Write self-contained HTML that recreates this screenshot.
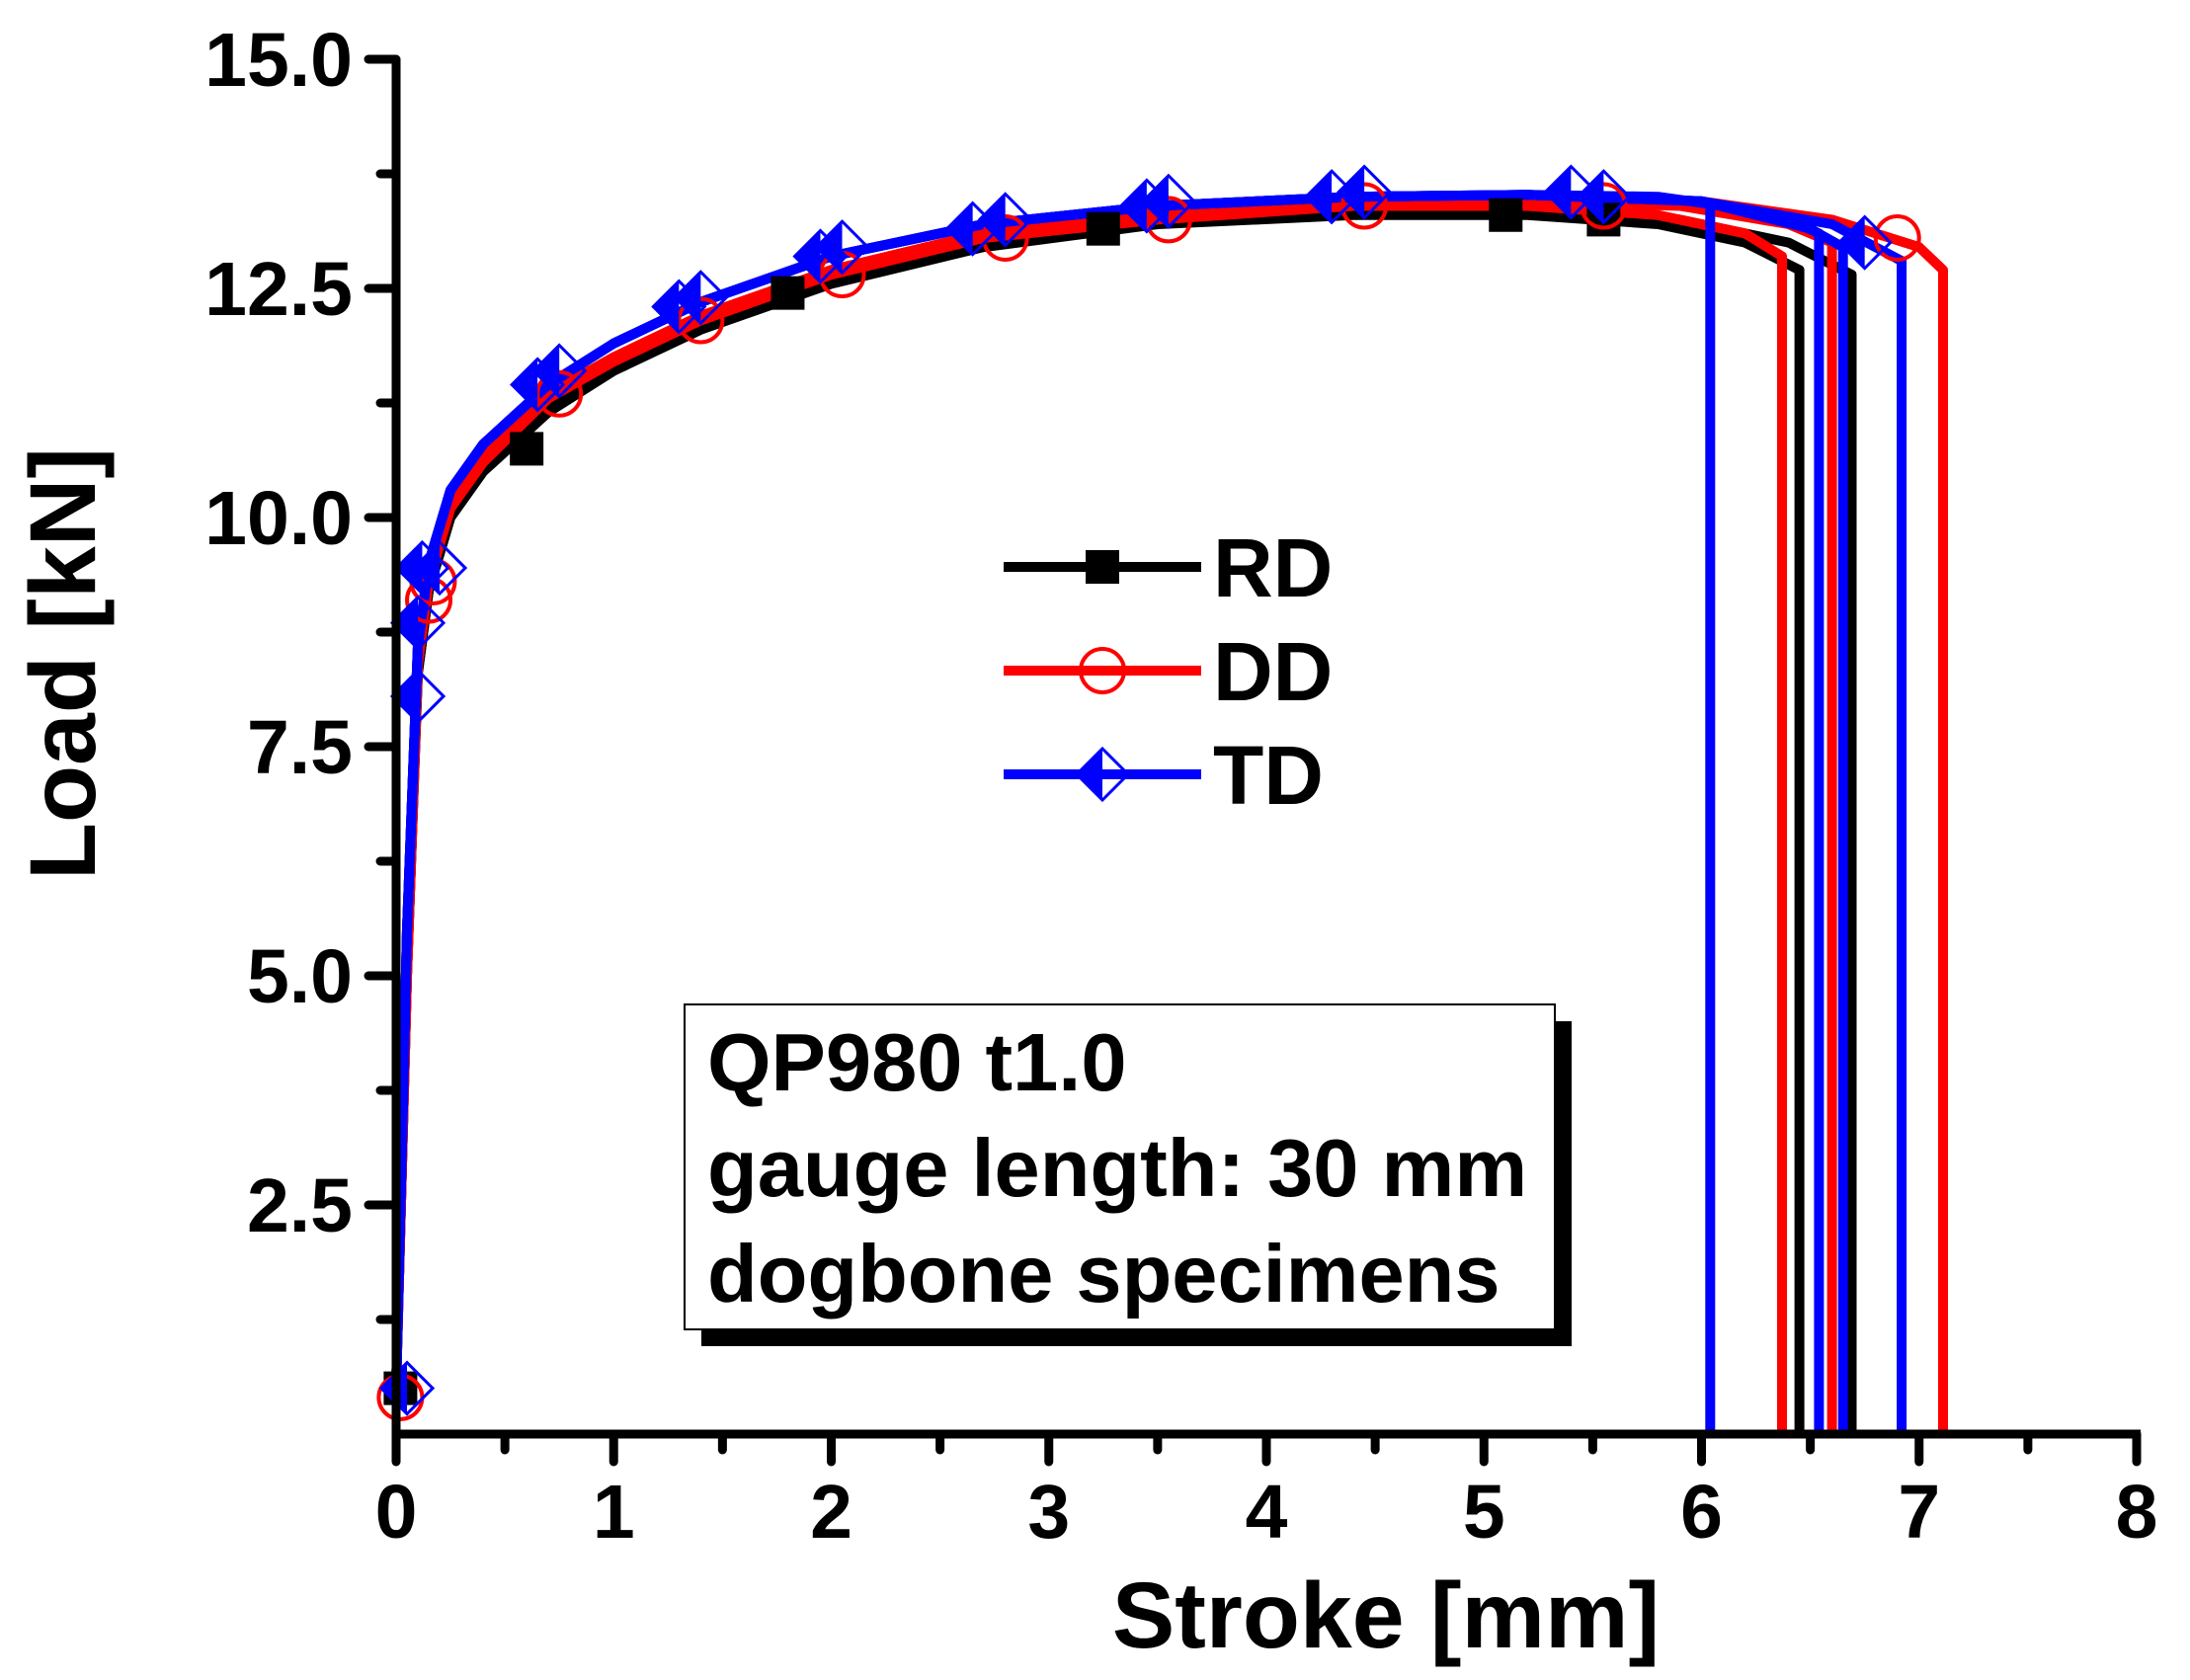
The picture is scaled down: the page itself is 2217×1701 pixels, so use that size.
<!DOCTYPE html>
<html><head><meta charset="utf-8"><style>
html,body{margin:0;padding:0;background:#fff;width:2217px;height:1701px;overflow:hidden}
svg{display:block}
text{font-family:"Liberation Sans",Arial,sans-serif;font-weight:bold}
</style></head><body>
<svg id="chart" width="2217" height="1701" viewBox="0 0 2217 1701" xmlns="http://www.w3.org/2000/svg">
<g id="plot"></g>
<g id="axes"></g>
<g id="legend"></g>
<g>
<rect x="710" y="1034" width="881" height="329" fill="#000"/>
<rect x="693" y="1017" width="881" height="329" fill="#fff" stroke="#000" stroke-width="2"/>
<text x="716" y="1104" font-size="83">QP980 t1.0</text>
<text x="716" y="1211" font-size="83">gauge length: 30 mm</text>
<text x="716" y="1318" font-size="83">dogbone specimens</text>
</g>
<text x="1403" y="1668" font-size="95" text-anchor="middle">Stroke [mm]</text>
<text transform="translate(96,672) rotate(-90)" font-size="95" text-anchor="middle">Load [kN]</text>
</svg>
<script>
const xTicks=[0,1,2,3,4,5,6,7,8];
const yTicks=[2.5,5.0,7.5,10.0,12.5,15.0];
const yTickLabels=["2.5","5.0","7.5","10.0","12.5","15.0"];
// specimen curves (stroke mm, load kN)
const rd1X=[0,0.05,0.1,0.15,0.25,0.4,0.7,1,1.4,2,2.7,3.5,4.4,5.2,5.8,6.2,6.45];
const rd1Y=[0.5,5,8.3,9.2,10.0,10.5,11.15,11.6,12.05,12.55,12.95,13.2,13.3,13.3,13.2,13.0,12.7];
const rd2X=[0,0.05,0.1,0.15,0.25,0.4,0.7,1,1.4,2,2.7,3.5,4.4,5.2,5.9,6.4,6.69];
const rd2Y=[0.5,5,8.3,9.2,10.05,10.55,11.2,11.65,12.1,12.6,13.0,13.25,13.35,13.35,13.25,13.0,12.65];
const dd1X=[0,0.05,0.1,0.15,0.25,0.4,0.7,1,1.4,2,2.7,3.5,4.4,5.2,5.8,6.2,6.37];
const dd1Y=[0.5,5,8.4,9.3,10.1,10.6,11.3,11.7,12.15,12.65,13.05,13.25,13.4,13.4,13.3,13.1,12.85];
const dd2X=[0,0.05,0.1,0.15,0.25,0.4,0.7,1,1.4,2,2.7,3.5,4.4,5.2,5.9,6.4,6.6];
const dd2Y=[0.5,5,8.4,9.3,10.15,10.65,11.35,11.75,12.2,12.7,13.1,13.3,13.42,13.45,13.4,13.2,13.0];
const dd3X=[0,0.05,0.1,0.15,0.25,0.4,0.7,1,1.4,2,2.7,3.5,4.4,5.2,6,6.6,7.0,7.11];
const dd3Y=[0.5,5,8.4,9.3,10.15,10.65,11.35,11.75,12.2,12.7,13.1,13.3,13.45,13.5,13.45,13.25,12.95,12.7];
const td1X=[0,0.05,0.1,0.15,0.25,0.4,0.7,1,1.4,2,2.7,3.5,4.4,5.2,5.8,6.04];
const td1Y=[0.5,5.5,8.6,9.5,10.3,10.8,11.45,11.9,12.35,12.85,13.2,13.4,13.5,13.52,13.5,13.42];
const td2X=[0,0.05,0.1,0.15,0.25,0.4,0.7,1,1.4,2,2.7,3.5,4.4,5.2,6,6.4,6.54];
const td2Y=[0.5,5.5,8.6,9.5,10.3,10.8,11.45,11.9,12.35,12.85,13.2,13.4,13.5,13.52,13.45,13.25,13.1];
const td3X=[0,0.05,0.1,0.15,0.25,0.4,0.7,1,1.4,2,2.7,3.5,4.4,5.2,6,6.5,6.65];
const td3Y=[0.5,5.5,8.6,9.5,10.3,10.8,11.45,11.9,12.35,12.85,13.2,13.4,13.5,13.52,13.45,13.15,12.95];
const td4X=[0,0.05,0.1,0.15,0.25,0.4,0.7,1,1.4,2,2.7,3.5,4.4,5.2,6,6.6,6.92];
const td4Y=[0.5,5.5,8.6,9.5,10.3,10.8,11.45,11.9,12.35,12.85,13.2,13.4,13.5,13.52,13.45,13.2,12.8];
// markers
const rdMarkX=[0.02,0.6,1.8,3.25,5.1,5.55];
const rdMarkY=[0.5,10.75,12.45,13.15,13.3,13.25];
const ddMarkX=[0.02,0.15,0.17,0.75,1.4,2.05,2.8,3.55,4.45,5.55,6.9];
const ddMarkY=[0.4,9.1,9.3,11.35,12.15,12.65,13.05,13.25,13.4,13.4,13.05];
const tdMarkX=[0.05,0.1,0.1,0.12,0.2,0.65,0.75,1.3,1.4,1.95,2.05,2.65,2.8,3.45,3.55,4.3,4.45,5.4,5.55,6.75];
const tdMarkY=[0.5,8.05,8.85,9.45,9.45,11.45,11.6,12.3,12.4,12.85,12.95,13.15,13.25,13.4,13.45,13.5,13.55,13.55,13.5,13.0];

const X0=401,X1=2163,Y0=1452,Y1=60;
const sx=v=>X0+(X1-X0)*v/8;
const sy=v=>Y0-(Y0-Y1)*v/15;
const NS="http://www.w3.org/2000/svg";
const plot=document.getElementById('plot'),axes=document.getElementById('axes'),legend=document.getElementById('legend');
function mk(tag,attrs,parent){const e=document.createElementNS(NS,tag);for(const k in attrs)e.setAttribute(k,attrs[k]);parent.appendChild(e);return e;}

function curve(xs,ys,color,name){
  let d='';xs.forEach((x,i)=>{d+=(i?'L':'M')+sx(x).toFixed(1)+','+sy(ys[i]).toFixed(1);});
  d+='L'+sx(xs[xs.length-1]).toFixed(1)+','+sy(0).toFixed(1);
  const p=mk('path',{d:d,fill:'none',stroke:color,'stroke-width':10,'stroke-linejoin':'round'},plot);
  
  
}
curve(rd1X,rd1Y,'#000','rd-specimen-1');
curve(rd2X,rd2Y,'#000','rd-specimen-2');
curve(dd1X,dd1Y,'#f00','dd-specimen-1');
curve(dd2X,dd2Y,'#f00','dd-specimen-2');
curve(dd3X,dd3Y,'#f00','dd-specimen-3');
curve(td1X,td1Y,'#00f','td-specimen-1');
curve(td2X,td2Y,'#00f','td-specimen-2');
curve(td3X,td3Y,'#00f','td-specimen-3');
curve(td4X,td4Y,'#00f','td-specimen-4');

function square(cx,cy,g){return mk('rect',{x:cx-17,y:cy-17,width:34,height:34,fill:'#000'},g);}
function circle(cx,cy,g){return mk('circle',{cx:cx,cy:cy,r:22,fill:'none',stroke:'#f00','stroke-width':4},g);}
function diamond(cx,cy,g){
  const r=26;
  const gg=mk('g',{},g);
  mk('polygon',{points:`${cx},${cy-r} ${cx},${cy+r} ${cx-r},${cy}`,fill:'#00f'},gg);
  mk('polygon',{points:`${cx},${cy-r} ${cx+r},${cy} ${cx},${cy+r} ${cx-r},${cy}`,fill:'none',stroke:'#00f','stroke-width':3},gg);
  return gg;
}
rdMarkX.forEach((x,i)=>{const m=square(sx(x),sy(rdMarkY[i]),plot);

});
ddMarkX.forEach((x,i)=>{const m=circle(sx(x),sy(ddMarkY[i]),plot);

});
tdMarkX.forEach((x,i)=>{const m=diamond(sx(x),sy(tdMarkY[i]),plot);

});

// axes
const yl=mk('line',{x1:X0,y1:Y1,x2:X0,y2:Y0,stroke:'#000','stroke-width':9},axes);


const xl=mk('line',{x1:X0-4,y1:Y0,x2:X1+4,y2:Y0,stroke:'#000','stroke-width':9},axes);


for(let v=0;v<=15;v+=1.25){const major=Math.abs(v/2.5-Math.round(v/2.5))<1e-6;if(v===0)continue;
  mk('line',{x1:X0,y1:sy(v),x2:X0-(major?28:16),y2:sy(v),stroke:'#000','stroke-width':9,'stroke-linecap':'round'},axes);}
for(let v=0;v<=8;v+=0.5){const major=Math.abs(v-Math.round(v))<1e-6;
  mk('line',{x1:sx(v),y1:Y0,x2:sx(v),y2:Y0+(major?28:16),stroke:'#000','stroke-width':9,'stroke-linecap':'round'},axes);}
yTicks.forEach((v,i)=>{const t=mk('text',{x:X0-44,y:sy(v)+27,'font-size':77,'text-anchor':'end'},axes);t.textContent=yTickLabels[i];

});
xTicks.forEach(v=>{const t=mk('text',{x:sx(v),y:Y0+105,'font-size':77,'text-anchor':'middle'},axes);t.textContent=String(v);

});

// legend
const legItems=[['RD','#000',574,square],['DD','#f00',679,circle],['TD','#00f',784,diamond]];
legItems.forEach(([lab,col,y,fn])=>{
  const g=mk('g',{},legend);
  
  
  mk('line',{x1:1016,y1:y,x2:1216,y2:y,stroke:col,'stroke-width':10},g);
  fn(1116,y,g);
  const t=mk('text',{x:1228,y:y+30,'font-size':84},g);t.textContent=lab;
});
</script>
</body></html>
